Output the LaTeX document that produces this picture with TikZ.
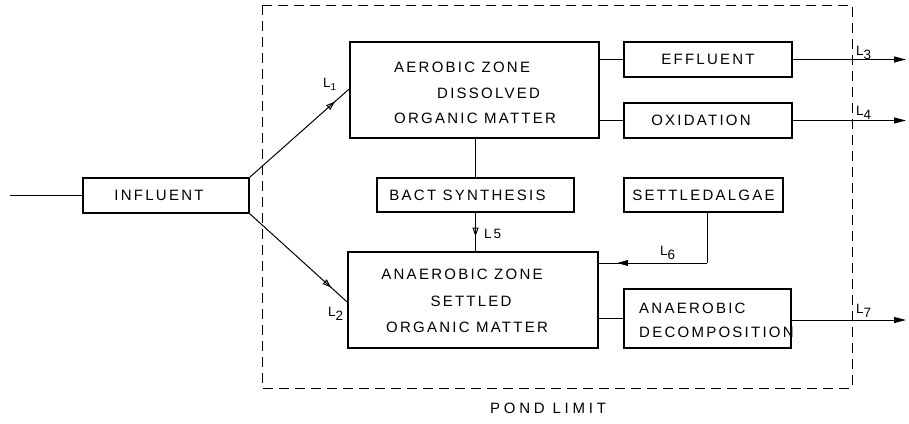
\documentclass[tikz,border=0pt]{standalone}
\usepackage{fontspec}
\setmainfont{Liberation Sans}[LetterSpace=15]
\newfontfamily\widefont{Liberation Sans}[LetterSpace=25]
\usetikzlibrary{arrows.meta,decorations.markings}
\begin{document}
\begin{tikzpicture}[x=1pt,y=-1pt,
  font=\fontsize{15}{26}\selectfont,
  box/.style={draw, line width=1.7pt, inner sep=0pt},
  conn/.style={line width=1pt},
  lbl/.style={font=\fontsize{13.5}{15}\selectfont, inner sep=0pt},
  txt/.style={inner sep=0pt, anchor=base},
  openmid/.style={postaction={decorate, decoration={markings,
      mark=at position #1 with {\arrow{Triangle[open,length=9pt,width=6pt,line width=1pt]}}}}},
  fillmid/.style={postaction={decorate, decoration={markings,
      mark=at position #1 with {\arrow{Triangle[length=11pt,width=6pt]}}}}},
  outarrow/.style={conn, -{Triangle[length=12pt,width=6pt]}}]
\useasboundingbox (0,0) rectangle (909,423);

% pond limit
\draw[line width=1pt, dash pattern=on 10pt off 6pt] (262,5) rectangle (852,388);
\node (pond) [font=\widefont\fontsize{15}{16}\selectfont] at (548,408) {POND LIMIT};

% boxes
\node (inf) [box, minimum width=166pt, minimum height=35pt] at (166,195.5) {INFLUENT\hspace*{14pt}};
\node (aer) [box, minimum width=249pt, minimum height=96pt] at (474.5,90) {};
\node (eff) [box, minimum width=168pt, minimum height=35pt] at (708,59.5) {EFFLUENT};
\node (oxi) [box, minimum width=168pt, minimum height=35pt] at (708,120.5) {OXIDATION\hspace*{14pt}};
\node (bact) [box, minimum width=197pt, minimum height=34pt] at (475.5,195) {BACT SYNTHESIS\hspace*{16pt}};
\node (alg) [box, minimum width=159pt, minimum height=34pt] at (703.5,195) {SETTLEDALGAE};
\node (ana) [box, minimum width=250pt, minimum height=96pt] at (473,300) {};
\node (dec) [box, minimum width=167pt, minimum height=59pt] at (707.5,318.5) {};

% box texts
\node (aer1) [txt, anchor=base west] at (394,72) {AEROBIC ZONE};
\node (aer2) [txt, anchor=base west] at (437,98) {DISSOLVED};
\node (aer3) [txt, anchor=base west] at (394,123) {ORGANIC MATTER};
\node (ana1) [txt] at (462,279) {ANAEROBIC ZONE};
\node (ana2) [txt] at (471,306) {SETTLED};
\node (ana3) [txt] at (467,332) {ORGANIC MATTER};
\node (dec1) [txt, anchor=base west] at (639,313) {ANAEROBIC};
\node (dec2) [txt, anchor=base west] at (639,337) {DECOMPOSITION};

% input
\coordinate (in) at (10,195.5);
\draw[conn] (in) -- (inf.west);

% branches
\draw[conn, openmid=0.86] (inf.north east) -- ([yshift=1pt]aer.west);
\draw[conn, openmid=0.84] (inf.south east) -- ([yshift=-2pt]ana.west);
\node (l1) [lbl, anchor=base west] at (323,87) {L\raisebox{-3pt}{\fontsize{10}{11}\selectfont 1}};
\node (l2) [lbl, anchor=base west] at (328,316) {L\raisebox{-4pt}{2}};

% aerobic outputs
\draw[conn] (aer.east |- eff.west) -- (eff.west);
\draw[conn] (aer.east |- oxi.west) -- (oxi.west);
\coordinate (o3) at (906,59.5);
\coordinate (o4) at (906,120.5);
\draw[outarrow] (eff.east) -- (o3);
\draw[outarrow] (oxi.east) -- (o4);
\node (l3) [lbl, anchor=base west] at (856,55) {L\raisebox{-4pt}{3}};
\node (l4) [lbl, anchor=base west] at (856,115) {L\raisebox{-4pt}{4}};

% synthesis path
\draw[conn] (bact.north |- aer.south) -- (bact.north);
\draw[conn, openmid=0.62] (bact.south) -- (bact.south |- ana.north);
\node (l5) [lbl, anchor=base west] at (484,238) {L5};

% settled algae
\coordinate (c6) at (707,263);
\draw[conn] ([xshift=3.5pt]alg.south) -- (c6);
\draw[conn, fillmid=0.83] (c6) -- (c6 -| ana.east);
\node (l6) [lbl, anchor=base west] at (660,255) {L\raisebox{-4pt}{6}};

% anaerobic outputs
\draw[conn] (ana.east |- dec.west) -- (dec.west);
\coordinate (o7) at (906,320);
\draw[outarrow] (dec.east |- o7) -- (o7);
\node (l7) [lbl, anchor=base west] at (856,313) {L\raisebox{-4pt}{7}};
\end{tikzpicture}
\end{document}
